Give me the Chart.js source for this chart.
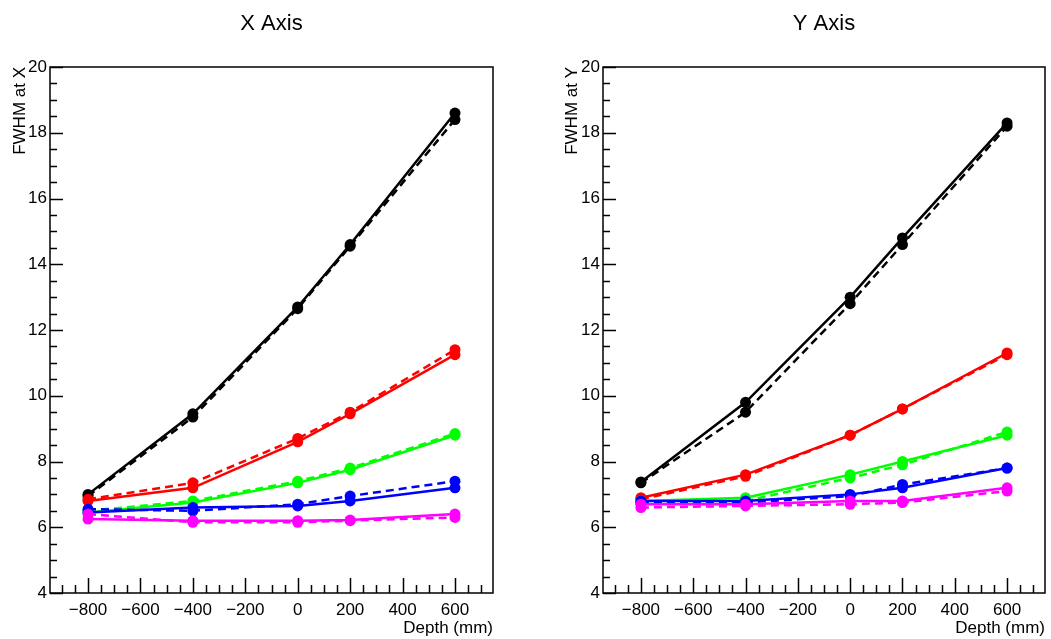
<!DOCTYPE html>
<html>
<head>
<meta charset="utf-8">
<script src="https://cdn.jsdelivr.net/npm/chart.js@4.4.1/dist/chart.umd.min.js"></script>
<style>
  body { margin: 0; background: #fff; width: 1051px; height: 639px; overflow: hidden; position: relative; }
  .pane { position: absolute; top: 0; height: 639px; }
  #leftPane { left: 0; width: 525px; }
  #rightPane { left: 525px; width: 526px; }
</style>
</head>
<body>
<div class="pane" id="leftPane"><canvas id="chartX"></canvas></div>
<div class="pane" id="rightPane"><canvas id="chartY"></canvas></div>
<script>
// Depth positions (mm) and tick labels
const depths = [-800, -400, 0, 200, 600];
const xTickValues = [-800, -600, -400, -200, 0, 200, 400, 600];
const yTickValues = [4, 6, 8, 10, 12, 14, 16, 18, 20];

// FWHM at X  (solid / dashed)
const xBlackSolid    = [7.00, 9.45, 12.70, 14.60, 18.60];
const xBlackDashed   = [6.95, 9.35, 12.65, 14.55, 18.40];
const xRedSolid      = [6.80, 7.20, 8.60, 9.45, 11.25];
const xRedDashed     = [6.85, 7.35, 8.70, 9.50, 11.40];
const xGreenSolid    = [6.45, 6.75, 7.35, 7.75, 8.80];
const xGreenDashed   = [6.50, 6.80, 7.40, 7.80, 8.85];
const xBlueSolid     = [6.45, 6.60, 6.65, 6.80, 7.20];
const xBlueDashed    = [6.55, 6.50, 6.70, 6.95, 7.40];
const xMagentaSolid  = [6.25, 6.20, 6.20, 6.22, 6.40];
const xMagentaDashed = [6.40, 6.15, 6.15, 6.20, 6.30];

// FWHM at Y  (solid / dashed)
const yBlackSolid    = [7.38, 9.80, 13.00, 14.80, 18.30];
const yBlackDashed   = [7.35, 9.50, 12.80, 14.60, 18.20];
const yRedSolid      = [6.90, 7.60, 8.80, 9.60, 11.30];
const yRedDashed     = [6.85, 7.55, 8.80, 9.60, 11.25];
const yGreenSolid    = [6.80, 6.90, 7.60, 8.00, 8.80];
const yGreenDashed   = [6.75, 6.80, 7.50, 7.90, 8.90];
const yBlueSolid     = [6.80, 6.80, 7.00, 7.20, 7.80];
const yBlueDashed    = [6.75, 6.75, 6.95, 7.30, 7.80];
const yMagentaSolid  = [6.70, 6.70, 6.80, 6.80, 7.20];
const yMagentaDashed = [6.60, 6.65, 6.70, 6.75, 7.10];

const FONT = "'Liberation Sans', Arial, Helvetica, sans-serif";

// рамка и внутренние засечки в стиле ROOT
const rootFrame = {
  id: 'rootFrame',
  afterDraw(chart) {
    const { ctx, chartArea: a, scales } = chart;
    ctx.save();
    ctx.strokeStyle = '#000';
    ctx.lineWidth = 1.5;
    ctx.strokeRect(a.left, a.top, a.right - a.left, a.bottom - a.top);
    ctx.beginPath();
    const xs = scales.x;
    for (let v = -900; v <= xs.max; v += 50) {
      const px = Math.round(xs.getPixelForValue(v)) + 0.5;
      const len = v % 200 === 0 ? 15 : 8;
      ctx.moveTo(px, a.bottom);
      ctx.lineTo(px, a.bottom - len);
    }
    const ys = scales.y;
    for (let v = ys.min; v <= ys.max; v += 0.5) {
      const py = Math.round(ys.getPixelForValue(v)) + 0.5;
      const len = v % 2 === 0 ? 13 : 7;
      ctx.moveTo(a.left, py);
      ctx.lineTo(a.left + len, py);
    }
    ctx.stroke();
    ctx.restore();
  }
};

function line(values, color, dashed) {
  return {
    data: depths.map((d, i) => ({ x: d, y: values[i] })),
    borderColor: color,
    backgroundColor: color,
    pointBackgroundColor: color,
    pointBorderColor: color,
    borderWidth: 2.5,
    borderDash: dashed ? [8, 5] : [],
    pointRadius: 5.5,
    pointBorderWidth: 0,
    tension: 0
  };
}

function makeChart(canvasId, title, yTitle, sets, yAxisWidth, yTitlePad, rightPad) {
  return new Chart(document.getElementById(canvasId), {
    type: 'line',
    data: { datasets: sets },
    plugins: [rootFrame],
    options: {
      responsive: true,
      maintainAspectRatio: false,
      animation: false,
      layout: { padding: { left: 0, right: rightPad, top: 0, bottom: 0 } },
      plugins: {
        legend: { display: false },
        tooltip: { enabled: false },
        title: {
          display: true,
          text: title,
          fullSize: false,
          color: '#000',
          font: { family: FONT, size: 22, weight: 'normal' },
          padding: { top: 11, bottom: 29.6 }
        }
      },
      scales: {
        x: {
          type: 'linear',
          min: -945,
          max: 745,
          afterBuildTicks: s => { s.ticks = xTickValues.map(v => ({ value: v })); },
          afterFit: s => { s.height = 46; },
          grid: { display: false, drawTicks: false },
          border: { display: false },
          ticks: {
            color: '#000',
            padding: 7,
            maxRotation: 0,
            font: { family: FONT, size: 17 },
            callback: v => v < 0 ? '\u2212' + Math.abs(v) : String(v)
          },
          title: {
            display: true,
            text: 'Depth (mm)',
            align: 'end',
            color: '#000',
            font: { family: FONT, size: 17 },
            padding: { top: 0, bottom: 0 }
          }
        },
        y: {
          type: 'linear',
          min: 4,
          max: 20,
          afterBuildTicks: s => { s.ticks = yTickValues.map(v => ({ value: v })); },
          afterFit: s => { s.width = yAxisWidth; },
          grid: { display: false, drawTicks: false },
          border: { display: false },
          ticks: {
            color: '#000',
            padding: 3,
            font: { family: FONT, size: 17 }
          },
          title: {
            display: true,
            text: yTitle,
            align: 'end',
            color: '#000',
            font: { family: FONT, size: 17 },
            padding: { top: yTitlePad, bottom: 0 }
          }
        }
      }
    }
  });
}

const xSets = [
  line(xMagentaSolid, '#ff00ff', false), line(xMagentaDashed, '#ff00ff', true),
  line(xBlueSolid, '#0000ff', false),    line(xBlueDashed, '#0000ff', true),
  line(xGreenSolid, '#00ff00', false),   line(xGreenDashed, '#00ff00', true),
  line(xRedSolid, '#ff0000', false),     line(xRedDashed, '#ff0000', true),
  line(xBlackSolid, '#000000', false),   line(xBlackDashed, '#000000', true)
];
const ySets = [
  line(yMagentaSolid, '#ff00ff', false), line(yMagentaDashed, '#ff00ff', true),
  line(yBlueSolid, '#0000ff', false),    line(yBlueDashed, '#0000ff', true),
  line(yGreenSolid, '#00ff00', false),   line(yGreenDashed, '#00ff00', true),
  line(yRedSolid, '#ff0000', false),     line(yRedDashed, '#ff0000', true),
  line(yBlackSolid, '#000000', false),   line(yBlackDashed, '#000000', true)
];

makeChart('chartX', 'X Axis', 'FWHM at X', xSets, 50, 10, 32);
makeChart('chartY', 'Y Axis', 'FWHM at Y', ySets, 78, 37, 6);
</script>
</body>
</html>
